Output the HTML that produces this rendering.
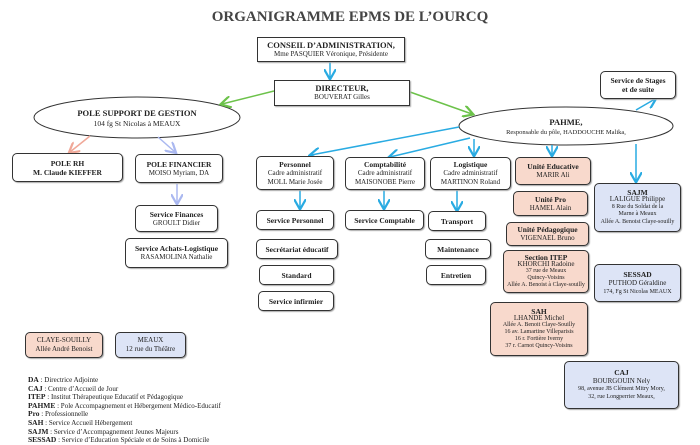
<!DOCTYPE html><html><head><meta charset="utf-8"><style>
body{margin:0;width:700px;height:443px;background:#fff;position:relative;overflow:hidden;font-family:"Liberation Serif",serif;color:#222}
.b{position:absolute;border:1px solid #333;border-radius:5px;background:#fff;text-align:center;font-size:7px;line-height:9px;box-sizing:border-box;display:flex;flex-direction:column;justify-content:center;box-shadow:1px 1px 1px #aaa}
.sq{border-radius:0}
.p{background:#f8d9cc}.v{background:#dde4f6}
b{font-weight:bold;font-size:7.5px}
.t{position:absolute;font-size:7px;line-height:7.6px}
svg{position:absolute;left:0;top:0}
</style></head><body>
<div style="position:absolute;left:0;width:700px;top:9px;text-align:center;font-weight:bold;font-size:15px;color:#444">ORGANIGRAMME EPMS DE L’OURCQ</div>
<svg width="700" height="443">
<defs>
<marker id="bl" markerWidth="8" markerHeight="8" refX="6" refY="4" orient="auto"><path d="M0,0L7,4L0,8" fill="none" stroke="#29abe2" stroke-width="1.5"/></marker>
<marker id="gr" markerWidth="8" markerHeight="8" refX="6" refY="4" orient="auto"><path d="M0,0L7,4L0,8" fill="none" stroke="#6cc24a" stroke-width="1.5"/></marker>
<marker id="pk" markerWidth="8" markerHeight="8" refX="6" refY="4" orient="auto"><path d="M0,0L7,4L0,8" fill="none" stroke="#f0a898" stroke-width="1.5"/></marker>
<marker id="lv" markerWidth="8" markerHeight="8" refX="6" refY="4" orient="auto"><path d="M0,0L7,4L0,8" fill="none" stroke="#aab8f0" stroke-width="1.5"/></marker>
</defs>
<ellipse cx="137" cy="117.5" rx="103" ry="20.5" fill="#fff" stroke="#333"/>
<ellipse cx="566" cy="126" rx="107" ry="19" fill="#fff" stroke="#333"/>
<g stroke-width="1.5" fill="none">
<line x1="330" y1="62" x2="330" y2="78" stroke="#29abe2" marker-end="url(#bl)"/>
<line x1="274" y1="91" x2="222" y2="104" stroke="#6cc24a" marker-end="url(#gr)"/>
<line x1="410" y1="92" x2="472" y2="114" stroke="#6cc24a" marker-end="url(#gr)"/>
<line x1="90" y1="136" x2="70" y2="152" stroke="#f0a898" marker-end="url(#pk)"/>
<line x1="158" y1="137" x2="175" y2="152" stroke="#aab8f0" marker-end="url(#lv)"/>
<line x1="177" y1="184" x2="177" y2="203" stroke="#aab8f0" marker-end="url(#lv)"/>
<line x1="459" y1="127" x2="311" y2="155" stroke="#29abe2" marker-end="url(#bl)"/>
<line x1="470" y1="138" x2="390" y2="157" stroke="#29abe2" marker-end="url(#bl)"/>
<line x1="474" y1="139" x2="474" y2="155" stroke="#29abe2" marker-end="url(#bl)"/>
<line x1="552" y1="145" x2="552" y2="155" stroke="#29abe2" marker-end="url(#bl)"/>
<line x1="636" y1="144" x2="636" y2="181" stroke="#29abe2" marker-end="url(#bl)"/>
<line x1="636" y1="110" x2="655" y2="99" stroke="#29abe2" marker-end="url(#bl)"/>
<line x1="300" y1="190" x2="300" y2="208" stroke="#29abe2" marker-end="url(#bl)"/>
<line x1="384" y1="190" x2="384" y2="208" stroke="#29abe2" marker-end="url(#bl)"/>
<line x1="457" y1="190" x2="457" y2="210" stroke="#29abe2" marker-end="url(#bl)"/>
</g>
<text x="137" y="116" text-anchor="middle" font-family="Liberation Serif" font-weight="bold" font-size="8.5" fill="#222">POLE SUPPORT DE GESTION</text>
<text x="137" y="126" text-anchor="middle" font-family="Liberation Serif" font-size="7.5" fill="#222">104 fg St Nicolas à MEAUX</text>
<text x="566" y="125" text-anchor="middle" font-family="Liberation Serif" font-weight="bold" font-size="8.5" fill="#222">PAHME,</text>
<text x="566" y="134" text-anchor="middle" font-family="Liberation Serif" font-size="6.5" fill="#222">Responsable du pôle, HADDOUCHE Malika,</text>
</svg>
<div class="b sq" style="left:257px;top:37px;width:148px;height:25px"><b style="font-size:8.5px">CONSEIL D’ADMINISTRATION,</b>Mme PASQUIER Véronique, Présidente</div>
<div class="b sq" style="left:274px;top:80px;width:136px;height:26px"><b style="font-size:8.5px">DIRECTEUR,</b>BOUVERAT Gilles</div>
<div class="b" style="left:600px;top:71px;width:76px;height:28px"><b>Service de Stages<br>et de suite</b></div>
<div class="b" style="left:12px;top:153px;width:111px;height:29px"><b>POLE RH</b><b>M. Claude KIEFFER</b></div>
<div class="b" style="left:135px;top:154px;width:88px;height:29px"><b>POLE FINANCIER</b>MOISO Myriam, DA</div>
<div class="b" style="left:135px;top:205px;width:83px;height:27px"><b>Service Finances</b>GROULT Didier</div>
<div class="b" style="left:125px;top:238px;width:103px;height:30px"><b>Service Achats-Logistique</b>RASAMOLINA Nathalie</div>
<div class="b" style="left:256px;top:156px;width:78px;height:34px"><b>Personnel</b>Cadre administratif<br>MOLL Marie Josée</div>
<div class="b" style="left:345px;top:157px;width:80px;height:33px"><b>Comptabilité</b>Cadre administratif<br>MAISONOBE Pierre</div>
<div class="b" style="left:430px;top:157px;width:81px;height:33px"><b>Logistique</b>Cadre administratif<br>MARTINON Roland</div>
<div class="b" style="left:256px;top:210px;width:78px;height:20px"><b>Service Personnel</b></div>
<div class="b" style="left:345px;top:210px;width:79px;height:20px"><b>Service Comptable</b></div>
<div class="b" style="left:428px;top:211px;width:58px;height:20px"><b>Transport</b></div>
<div class="b" style="left:256px;top:239px;width:82px;height:20px"><b>Secrétariat éducatif</b></div>
<div class="b" style="left:259px;top:265px;width:75px;height:20px"><b>Standard</b></div>
<div class="b" style="left:258px;top:291px;width:76px;height:20px"><b>Service infirmier</b></div>
<div class="b" style="left:425px;top:239px;width:66px;height:20px"><b>Maintenance</b></div>
<div class="b" style="left:426px;top:265px;width:60px;height:20px"><b>Entretien</b></div>
<div class="b p" style="left:515px;top:157px;width:76px;height:28px"><b>Unité Educative</b>MARIR Ali</div>
<div class="b p" style="left:513px;top:191px;width:75px;height:25px"><b>Unité Pro</b>HAMEL Alain</div>
<div class="b p" style="left:506px;top:222px;width:83px;height:24px"><b>Unité Pédagogique</b>VIGENAEL Bruno</div>
<div class="b p" style="left:503px;top:250px;width:86px;height:43px;font-size:6px;line-height:7px"><b>Section ITEP</b><span style="font-size:7px">KHORCHI Radoine</span>37 rue de Meaux<br>Quincy-Voisins<br>Allée A. Benoist à Claye-souilly</div>
<div class="b p" style="left:490px;top:302px;width:98px;height:54px;font-size:6px;line-height:7px"><b>SAH</b><span style="font-size:7px">LHANDE Michel</span>Allée A. Benoit Claye-Souilly<br>16 av. Lamartine Villeparisis<br>16 r. Fortière Iverny<br>37 r. Carnot Quincy-Voisins</div>
<div class="b v" style="left:594px;top:183px;width:87px;height:49px;font-size:6px;line-height:7.5px"><b>SAJM</b><span style="font-size:7px">LALIGUE Philippe</span>8 Rue du Soldat de la<br>Marne à Meaux<br>Allée A. Benoist Claye-souilly</div>
<div class="b v" style="left:594px;top:264px;width:87px;height:38px;font-size:6px"><b>SESSAD</b><span style="font-size:7px">PUTHOD Géraldine</span>174, Fg St Nicolas MEAUX</div>
<div class="b v" style="left:564px;top:361px;width:115px;height:48px;font-size:6px;line-height:8px"><b>CAJ</b><span style="font-size:7px">BOURGOUIN Nely</span>98, avenue JB Clément Mitry Mory,<br>32, rue Longperrier Meaux,</div>
<div class="b p" style="left:25px;top:332px;width:78px;height:26px">CLAYE-SOUILLY<br>Allée André Benoist</div>
<div class="b v" style="left:115px;top:332px;width:71px;height:26px">MEAUX<br>12 rue du Théâtre</div>
<div class="t" style="left:28px;top:376px"><b>DA</b> : Directrice Adjointe<br><b>CAJ</b> : Centre d’Accueil de Jour<br><b>ITEP</b> : Institut Thérapeutique Educatif et Pédagogique<br><b>PAHME</b> : Pole Accompagnement et Hébergement Médico-Educatif<br><b>Pro</b> : Professionnelle<br><b>SAH</b> : Service Accueil Hébergement<br><b>SAJM</b> : Service d’Accompagnement Jeunes Majeurs<br><b>SESSAD</b> : Service d’Education Spéciale et de Soins à Domicile</div>
</body></html>
